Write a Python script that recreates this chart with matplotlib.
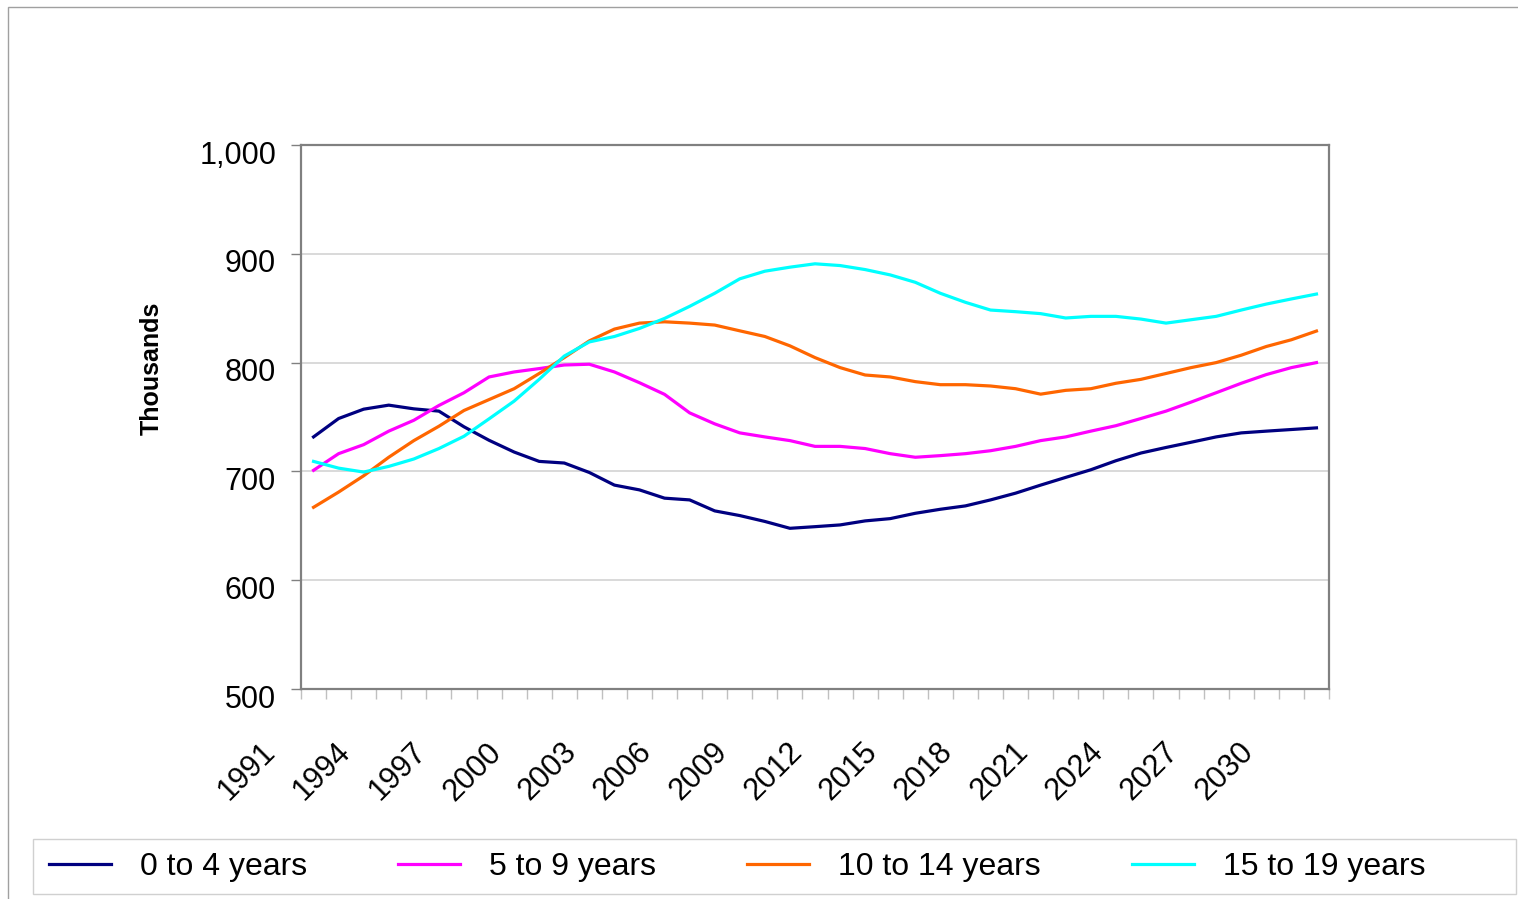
import matplotlib
matplotlib.use('Agg')
import matplotlib.pyplot as plt
import matplotlib.transforms as mtransforms
from matplotlib.patches import Rectangle
from matplotlib.ticker import FuncFormatter

plt.rcParams['font.family'] = ['Liberation Sans', 'DejaVu Sans']

years = list(range(1991, 2032))

age_0_4 = [731.7, 748.6, 757.2, 760.9, 757.5, 755.4, 741.0, 728.6, 717.8, 709.2,
           707.7, 699.0, 687.4, 683.0, 675.4, 673.8, 663.7, 659.4, 654.0, 647.7,
           649.2, 650.8, 654.5, 656.6, 661.5, 665.2, 668.3, 673.8, 680.0, 687.4,
           694.5, 701.5, 709.8, 716.9, 722.0, 726.8, 731.7, 735.4, 737.0, 738.5,
           740.0]
age_5_9 = [701.0, 716.3, 724.6, 737.0, 747.0, 760.6, 772.3, 786.8, 791.4, 794.5,
           797.8, 798.5, 791.4, 781.5, 770.8, 753.8, 743.7, 735.4, 731.7, 728.3,
           723.0, 723.0, 721.0, 716.3, 713.0, 714.5, 716.3, 719.0, 723.0, 728.3,
           731.7, 737.0, 742.0, 748.6, 755.4, 763.7, 772.3, 781.0, 789.0, 795.4,
           800.0]
age_10_14 = [667.0, 681.0, 696.0, 713.0, 728.3, 741.5, 756.0, 766.0, 776.0, 790.0,
             804.6, 820.0, 830.8, 836.3, 837.5, 836.3, 834.5, 829.2, 824.0, 815.4,
             804.6, 795.4, 788.6, 786.8, 782.5, 779.7, 779.7, 778.5, 776.0, 771.0,
             774.5, 776.0, 781.0, 784.6, 790.0, 795.4, 800.0, 806.8, 814.8, 821.0,
             829.0]
age_15_19 = [709.2, 703.0, 699.4, 704.6, 711.4, 721.0, 732.3, 748.3, 764.6, 784.6,
             806.0, 819.0, 824.0, 831.4, 840.6, 851.7, 863.7, 877.0, 884.0, 887.7,
             890.8, 889.2, 885.5, 880.6, 873.8, 863.7, 855.4, 848.3, 846.8, 845.0,
             841.0, 842.5, 842.5, 840.0, 836.3, 839.4, 842.5, 848.3, 853.8, 858.5,
             863.0]

labels = ['0 to 4 years', '5 to 9 years', '10 to 14 years', '15 to 19 years']
colors = ['#000080', '#FF00FF', '#FF6600', '#00FFFF']

fig = plt.figure(figsize=(15.18, 8.99), dpi=100)
ax = fig.add_axes([301/1518, 1-689/899, 1028/1518, 544/899])

x = list(range(len(years)))
for ys, lab, c in zip([age_0_4, age_5_9, age_10_14, age_15_19], labels, colors):
    ax.plot(x, ys, color=c, lw=2.3, label=lab, solid_joinstyle='round')

ax.set_xlim(-0.5, len(years)-0.5)
ax.set_ylim(500, 1000)
ax.set_yticks(range(500, 1001, 100))
ax.yaxis.set_major_formatter(FuncFormatter(lambda v, p: f'{int(v):,}'))
ax.grid(axis='y', color='#d0d0d0', lw=1.1)
ax.set_axisbelow(True)
for s in ax.spines.values():
    s.set_color('#808080')
    s.set_linewidth(1.6)

ax.tick_params(axis='y', direction='out', length=7, width=1, color='#808080',
               labelsize=22, pad=11)
yoff = mtransforms.ScaledTranslation(0, -0.07, fig.dpi_scale_trans)
for t in ax.get_yticklabels():
    t.set_transform(t.get_transform() + yoff)

tick_pos = x[::3]
ax.set_xticks(tick_pos)
ax.set_xticklabels([str(years[i]) for i in tick_pos], rotation=45, ha='right',
                   va='top', rotation_mode='anchor', fontsize=22)
ax.tick_params(axis='x', which='major', length=0, pad=0)
ax.set_xticks([i - 0.5 for i in range(len(years)+1)], minor=True)
ax.tick_params(axis='x', which='minor', direction='out', length=7, width=1,
               color='#c0c0c0')
off = mtransforms.ScaledTranslation(-0.53, -0.48, fig.dpi_scale_trans)
for t in ax.get_xticklabels():
    t.set_transform(t.get_transform() + off)

fig.text(152/1518, 1-368/899, 'Thousands', rotation=90, fontsize=18,
         fontweight='bold', ha='center', va='center')

# outer chart border
fig.patches.append(Rectangle((8/1518, -0.1), 1.2, 1-7/899+0.1, transform=fig.transFigure,
                             fill=False, edgecolor='#a0a0a0', lw=1))

# legend box
fig.patches.append(Rectangle((33/1518, 1-894/899), 1483/1518, 55/899,
                             transform=fig.transFigure, fill=False,
                             edgecolor='#d0d0d0', lw=1))
leg = fig.legend(loc='center left', bbox_to_anchor=(49/1518, 1-867/899),
                 ncol=4, fontsize=23, frameon=False,
                 handlelength=1.94, handletextpad=0.91, columnspacing=2.85,
                 borderpad=0, borderaxespad=0)

fig.savefig('out.png', dpi=100)
